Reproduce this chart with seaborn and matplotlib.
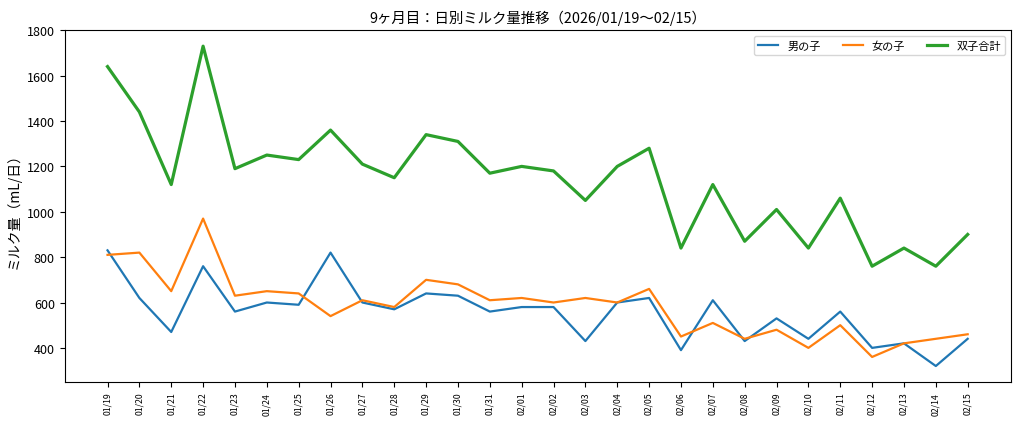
import matplotlib
matplotlib.use('Agg')
import matplotlib.pyplot as plt
import seaborn as sns
import pandas as pd

# Daily milk intake (mL), 2026/01/19 - 02/15
dates = ['01/19', '01/20', '01/21', '01/22', '01/23', '01/24', '01/25', '01/26',
         '01/27', '01/28', '01/29', '01/30', '01/31', '02/01', '02/02', '02/03',
         '02/04', '02/05', '02/06', '02/07', '02/08', '02/09', '02/10', '02/11',
         '02/12', '02/13', '02/14', '02/15']
boy = [830, 620, 470, 760, 560, 600, 590, 820, 600, 570, 640, 630, 560, 580,
       580, 430, 600, 620, 390, 610, 430, 530, 440, 560, 400, 420, 320, 440]
girl = [810, 820, 650, 970, 630, 650, 640, 540, 610, 580, 700, 680, 610, 620,
        600, 620, 600, 660, 450, 510, 440, 480, 400, 500, 360, 420, 440, 460]
total = [1640, 1440, 1120, 1730, 1190, 1250, 1230, 1360, 1210, 1150, 1340, 1310,
         1170, 1200, 1180, 1050, 1200, 1280, 840, 1120, 870, 1010, 840, 1060,
         760, 840, 760, 900]

plt.rcParams['font.family'] = ['Noto Sans CJK JP', 'DejaVu Sans']

df = pd.DataFrame({'date': dates, 'boy': boy, 'girl': girl, 'total': total})

fig, ax = plt.subplots(figsize=(10.24, 4.27), dpi=100)
fig.subplots_adjust(left=0.063, right=0.987, top=0.927, bottom=0.103)

sns.lineplot(data=df, x='date', y='boy', ax=ax, color='#1f77b4', linewidth=1.6, label='男の子')
sns.lineplot(data=df, x='date', y='girl', ax=ax, color='#ff7f0e', linewidth=1.6, label='女の子')
sns.lineplot(data=df, x='date', y='total', ax=ax, color='#2ca02c', linewidth=2.3, label='双子合計')

ax.set_title('9ヶ月目：日別ミルク量推移（2026/01/19〜02/15）', fontsize=10.4)
ax.set_xlabel('')
ax.set_ylabel('ミルク量（mL/日）', fontsize=10)
ax.tick_params(axis='x', labelrotation=90, labelsize=6.3)
ax.tick_params(axis='y', labelsize=9)
ax.legend(loc='upper right', ncol=3, fontsize=8, handlelength=1.8)

fig.savefig('out.png', dpi=100)
